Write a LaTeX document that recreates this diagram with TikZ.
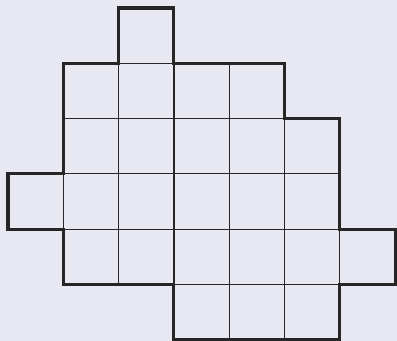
\documentclass[tikz,border=0pt]{standalone}
\usepackage{xcolor}
\usetikzlibrary{calc}
\definecolor{paper}{HTML}{E8E8F3}
\definecolor{ink}{HTML}{262626}

\begin{document}
\begin{tikzpicture}[x=1cm, y=-1cm,
    cell/.style={draw=ink, line width=0.6pt},
    rim/.style={draw=ink, line width=1.6pt, line join=miter}]
    \fill[paper] (-0.145,-0.145) rectangle (7.034,6.021);
    \useasboundingbox (-0.145,-0.145) rectangle (7.034,6.021);
    % row / first column / last column
    \foreach \r/\a/\b in {0/2/2, 1/1/4, 2/1/5, 3/0/5, 4/1/6, 5/3/5}
        \foreach \c in {\a,...,\b}
            \draw[cell] (\c,\r) rectangle ++(1,1);
    \draw[rim] (2,0) -- (3,0) -- (3,1) -- (5,1) -- (5,2) -- (6,2) -- (6,4)
        -- (7,4) -- (7,5) -- (6,5) -- (6,6) -- (3,6) -- (3,5) -- (1,5)
        -- (1,4) -- (0,4) -- (0,3) -- (1,3) -- (1,1) -- (2,1) -- cycle;
\end{tikzpicture}
\end{document}
